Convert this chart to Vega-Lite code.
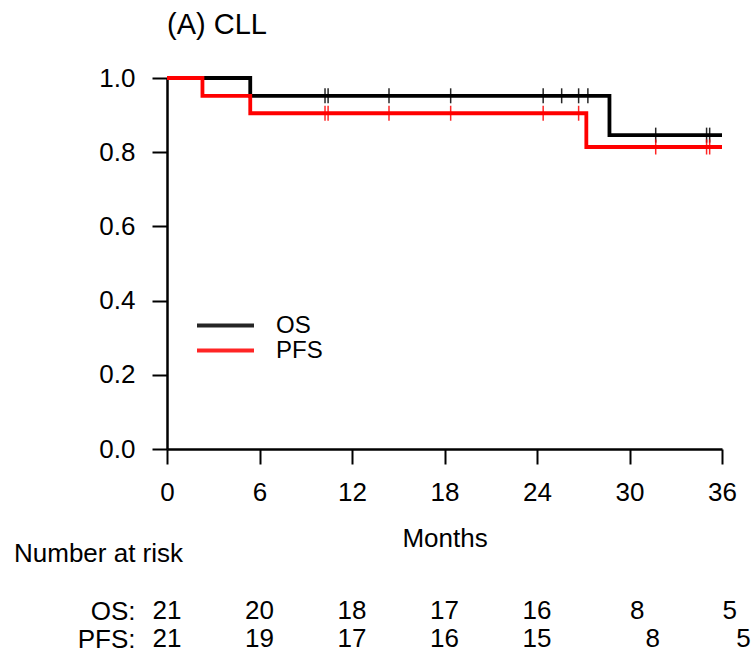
{
  "$schema": "https://vega.github.io/schema/vega-lite/v6.json",
  "padding": {"left": 14, "top": 11, "right": 5, "bottom": 5},
  "background": "white",
  "datasets": {
    "km": [
      {"curve": "OS", "t": 0, "s": 1.0},
      {"curve": "OS", "t": 5.4, "s": 0.952},
      {"curve": "OS", "t": 28.7, "s": 0.846},
      {"curve": "OS", "t": 36, "s": 0.846},
      {"curve": "PFS", "t": 0, "s": 1.0},
      {"curve": "PFS", "t": 2.3, "s": 0.952},
      {"curve": "PFS", "t": 5.4, "s": 0.905},
      {"curve": "PFS", "t": 27.2, "s": 0.814},
      {"curve": "PFS", "t": 36, "s": 0.814}
    ],
    "censor": [
      {"curve": "OS", "t": 10.25, "s": 0.952},
      {"curve": "OS", "t": 10.45, "s": 0.952},
      {"curve": "OS", "t": 14.4, "s": 0.952},
      {"curve": "OS", "t": 18.4, "s": 0.952},
      {"curve": "OS", "t": 24.4, "s": 0.952},
      {"curve": "OS", "t": 25.6, "s": 0.952},
      {"curve": "OS", "t": 26.7, "s": 0.952},
      {"curve": "OS", "t": 27.3, "s": 0.952},
      {"curve": "OS", "t": 31.7, "s": 0.846},
      {"curve": "OS", "t": 35.0, "s": 0.846},
      {"curve": "OS", "t": 35.2, "s": 0.846},
      {"curve": "PFS", "t": 10.25, "s": 0.905},
      {"curve": "PFS", "t": 10.45, "s": 0.905},
      {"curve": "PFS", "t": 14.4, "s": 0.905},
      {"curve": "PFS", "t": 18.4, "s": 0.905},
      {"curve": "PFS", "t": 24.4, "s": 0.905},
      {"curve": "PFS", "t": 26.7, "s": 0.905},
      {"curve": "PFS", "t": 31.7, "s": 0.814},
      {"curve": "PFS", "t": 35.0, "s": 0.814},
      {"curve": "PFS", "t": 35.2, "s": 0.814}
    ],
    "risk": [
      {"row": "OS:", "t": 0, "n": 21},
      {"row": "OS:", "t": 6, "n": 20},
      {"row": "OS:", "t": 12, "n": 18},
      {"row": "OS:", "t": 18, "n": 17},
      {"row": "OS:", "t": 24, "n": 16},
      {"row": "OS:", "t": 30.5, "n": 8},
      {"row": "OS:", "t": 36.5, "n": 5},
      {"row": "PFS:", "t": 0, "n": 21},
      {"row": "PFS:", "t": 6, "n": 19},
      {"row": "PFS:", "t": 12, "n": 17},
      {"row": "PFS:", "t": 18, "n": 16},
      {"row": "PFS:", "t": 24, "n": 15},
      {"row": "PFS:", "t": 31.5, "n": 8},
      {"row": "PFS:", "t": 37.4, "n": 5}
    ]
  },
  "bounds": "flush",
  "spacing": 148,
  "vconcat": [
    {
      "width": 555,
      "height": 371,
      "title": {"text": "(A) CLL", "anchor": "start", "frame": "group", "fontSize": 29, "fontWeight": "normal", "offset": 25, "color": "black"},
      "layer": [
        {
          "data": {"name": "km"},
          "mark": {"type": "line", "interpolate": "step-after", "strokeWidth": 3.8},
          "encoding": {
            "x": {"field": "t", "type": "quantitative",
                  "scale": {"domain": [0, 36], "nice": false},
                  "axis": {"values": [0, 6, 12, 18, 24, 30, 36], "title": "Months", "titlePadding": 20}},
            "y": {"field": "s", "type": "quantitative",
                  "scale": {"domain": [0, 1], "nice": false},
                  "axis": {"values": [0, 0.2, 0.4, 0.6, 0.8, 1.0], "format": ".1f", "title": null}},
            "color": {"field": "curve", "type": "nominal",
                      "scale": {"domain": ["OS", "PFS"], "range": ["#000000", "#ff0000"]},
                      "legend": {"title": null, "orient": "none", "legendX": 28, "legendY": 235,
                                 "symbolType": "stroke", "symbolSize": 3249, "symbolStrokeWidth": 4,
                                 "clipHeight": 25, "rowPadding": 0, "padding": 0,
                                 "labelFontSize": 24, "labelOffset": 20, "labelColor": "black"}}
          }
        },
        {
          "data": {"name": "censor"},
          "mark": {"type": "tick", "orient": "vertical", "size": 15, "thickness": 1.5, "opacity": 0.85},
          "encoding": {
            "x": {"field": "t", "type": "quantitative"},
            "y": {"field": "s", "type": "quantitative"},
            "color": {"field": "curve", "type": "nominal"}
          }
        }
      ]
    },
    {
      "width": 555,
      "height": 56,
      "title": {"text": "Number at risk", "anchor": "start", "frame": "group", "dx": -153, "fontSize": 26, "fontWeight": "normal", "offset": 30, "color": "black"},
      "data": {"name": "risk"},
      "mark": {"type": "text", "fontSize": 26, "color": "black"},
      "encoding": {
        "x": {"field": "t", "type": "quantitative", "scale": {"domain": [0, 36], "nice": false}, "axis": null},
        "y": {"field": "row", "type": "nominal", "sort": ["OS:", "PFS:"],
              "axis": {"title": null, "domain": false, "ticks": false, "labelPadding": 32}},
        "text": {"field": "n", "type": "quantitative"}
      }
    }
  ],
  "config": {
    "font": "Liberation Sans",
    "view": {"stroke": null},
    "axis": {
      "grid": false,
      "domainColor": "black", "domainWidth": 2.5,
      "tickColor": "black", "tickWidth": 2, "tickSize": 15,
      "labelColor": "black", "labelFontSize": 26, "labelFont": "Liberation Sans",
      "titleColor": "black", "titleFontSize": 26, "titleFontWeight": "normal", "titleFont": "Liberation Sans"
    },
    "axisX": {"labelPadding": 15, "labelFlush": false},
    "axisY": {"labelPadding": 17},
    "legend": {"labelFont": "Liberation Sans"}
  }
}
